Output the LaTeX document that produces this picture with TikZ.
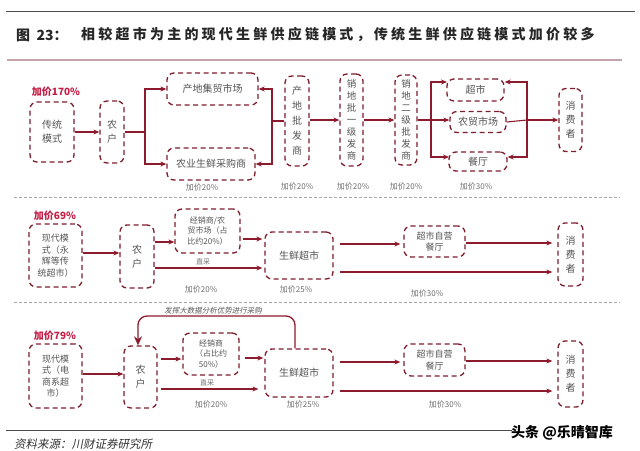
\documentclass[tikz,border=0pt]{standalone}
\usepackage{fontspec}
\setmainfont{Noto Sans CJK SC}
\newfontfamily\cjkit[FakeSlant=0.2]{Noto Sans CJK SC}
\newfontfamily\cjksp[LetterSpace=23]{Noto Sans CJK SC}
\usetikzlibrary{arrows.meta,calc}
\definecolor{dred}{RGB}{125,30,45}
\definecolor{ared}{RGB}{140,28,45}
\definecolor{redc}{RGB}{196,30,70}
\definecolor{txt}{RGB}{85,85,85}
\definecolor{lblc}{RGB}{110,110,110}
\definecolor{pinkline}{RGB}{195,165,170}
\tikzset{
  box/.style={draw=dred, dash pattern=on 5pt off 3.5pt, line width=1.3pt, rounded corners=7pt,
    inner sep=0pt, align=center, text=txt},
  f10/.style={font=\fontsize{10}{14}\selectfont},
  f9/.style={font=\fontsize{9}{11.5}\selectfont},
  f8/.style={font=\fontsize{8}{10.5}\selectfont},
  arr/.style={draw=ared, line width=1.1pt, -{Stealth[length=6pt,width=5pt]}},
  ln/.style={draw=ared, line width=1.1pt},
  lbl/.style={text=lblc, font=\fontsize{8}{9}\selectfont, inner sep=0pt},
  redl/.style={text=redc, font=\bfseries\fontsize{10}{12}\selectfont, inner sep=0pt},
  sep/.style={draw=gray!70, line width=0.8pt, dash pattern=on 3pt off 2pt},
  ttl/.style={anchor=west, inner sep=0pt, text=black!85, font=\cjksp\bfseries\fontsize{14}{16}\selectfont},
}
\begin{document}
\begin{tikzpicture}[x=1pt,y=-1pt]
\useasboundingbox[fill=white] (0,0) rectangle (640,450);
% header
\draw[gray!60!black, line width=0.8pt] (6,11) -- (635,11);
\node[ttl, font=\bfseries\fontsize{14}{16}\selectfont] (title1) at (16,35) {图\ \ 23：};
\node[ttl] (title2) at (81,35) {相较超市为主的现代生鲜供应链模式，传统生鲜供应链模式加价较多};
\draw[pinkline, line width=1.2pt] (7,60) -- (622,60);
\draw[sep] (14,197) -- (620,197);
\draw[sep] (14,302) -- (620,302);

% ===== Section 1 =====
\node[redl] (r1) at (56,92) {加价170\%};
\node[box,f10,minimum width=44pt,minimum height=60pt] (ctm) at (52,132) {传统\\模式};
\node[box,f10,minimum width=24pt,minimum height=62pt] (nh1) at (112,132) {农\\户};
\node[box,f10,minimum width=91pt,minimum height=32pt] (cdjm) at (212.5,89) {产地集贸市场};
\node[box,f10,minimum width=88pt,minimum height=32pt] (nysx) at (211,164) {农业生鲜采购商};
\node[box,font=\fontsize{10}{15}\selectfont,minimum width=24pt,minimum height=90pt] (cdpf) at (297,121) {产\\地\\批\\发\\商};
\node[box,font=\fontsize{9.5}{12}\selectfont,minimum width=23pt,minimum height=92pt] (xd1) at (351.5,120) {销\\地\\批\\一\\级\\发\\商};
\node[box,font=\fontsize{9.5}{12}\selectfont,minimum width=22pt,minimum height=90pt] (xd2) at (406,120) {销\\地\\二\\级\\批\\发\\商};
\node[box,f10,minimum width=57pt,minimum height=22pt] (cs) at (475.5,90) {超市};
\node[box,f10,minimum width=56pt,minimum height=21pt] (nmsc) at (478,122) {农贸市场};
\node[box,f10,minimum width=58pt,minimum height=19pt] (ct) at (478,161.5) {餐厅};
\node[box,f10,minimum width=23pt,minimum height=63pt] (xfz1) at (570.5,120) {消\\费\\者};

\coordinate (j1) at (145,132);
\coordinate (j2) at (272,121);
\coordinate (j3) at (431,120);
\coordinate (j4) at (527,120);
\coordinate (c1t) at (447,82);
\coordinate (c1b) at (449,157);

\draw[arr] (ctm.east) -- (nh1.west);
\draw[ln] (nh1.east) -- (j1);
\draw[arr] (j1) |- (cdjm.west);
\draw[arr] (j1) |- (nysx.west);
\draw[ln] (cdpf.west) -- (j2);
\draw[arr] (j2) |- (cdjm.east);
\draw[arr] (j2) |- (nysx.east);
\draw[arr] (cdpf.east |- xd1.west) -- (xd1.west);
\draw[arr] (xd2.west -| xd1.east) -- (xd2.west);
\draw[ln] (xd2.east) -- (j3);
\draw[arr] (j3) |- (c1t);
\draw[arr] (j3) -- (j3 -| nmsc.west);
\draw[arr] (j3) |- (c1b);
\draw[arr] (j4) |- (c1t -| cs.east);
\draw[arr] (j4) |- (c1b -| ct.east);
\draw[ln] (j4 |- c1t) -- (j4 |- c1b);
\draw[ln] (nmsc.east) -- (j4);
\draw[arr, line width=2pt] (j4) -- (xfz1.west);

\node[lbl] (p11) at (202,187) {加价20\%};
\node[lbl] (p12) at (297,186) {加价20\%};
\node[lbl] (p13) at (353,186) {加价20\%};
\node[lbl] (p14) at (406,186) {加价20\%};
\node[lbl] (p15) at (476,186) {加价30\%};

% ===== Section 2 =====
\node[redl] (r2) at (55,216) {加价69\%};
\node[box,f9,minimum width=53pt,minimum height=63pt] (mm2) at (55.5,255.5) {现代模\\式（永\\辉等传\\统超市）};
\node[box,f10,minimum width=34pt,minimum height=63pt] (nh2) at (137,256.5) {农\\户};
\node[box,f8,minimum width=65pt,minimum height=44pt] (jxs2) at (207.5,231) {经销商/农\\贸市场（占\\比约20\%）};
\node[box,f10,minimum width=68pt,minimum height=47pt] (sx2) at (299,255.5) {生鲜超市};
\node[box,f9,minimum width=61pt,minimum height=31pt] (zy2) at (434.5,241.5) {超市自营\\餐厅};
\node[box,f10,minimum width=25pt,minimum height=63pt] (xfz2) at (570.5,254.5) {消\\费\\者};

\draw[arr] (mm2.east |- 0,253) -- (nh2.west |- 0,253);
\draw[arr] (nh2.east |- 0,242) -- (jxs2.west |- 0,242);
\draw[arr, shorten <=2pt, shorten >=2pt] (jxs2.east |- 0,239) -- (sx2.west |- 0,239);
\draw[arr, shorten >=2pt] (nh2.east |- 0,268) -- (sx2.west |- 0,268);
\draw[arr, shorten <=6pt, shorten >=3pt] (sx2.east |- 0,244) -- (zy2.west |- 0,244);
\draw[arr, shorten >=5pt] (zy2.east |- 0,243) -- (xfz2.west |- 0,243);
\draw[arr, shorten <=6pt, shorten >=5pt] (sx2.east |- 0,272) -- (xfz2.west |- 0,272);
\node[lbl, font=\fontsize{7}{8}\selectfont] (zc2) at (203,262) {直采};
\node[lbl] (p21) at (201,289) {加价20\%};
\node[lbl] (p22) at (296,289) {加价25\%};
\node[lbl] (p23) at (427,293) {加价30\%};

% ===== Section 3 =====
\node[redl] (r3) at (55,336) {加价79\%};
\node[box,f9,minimum width=53pt,minimum height=64pt] (mm3) at (55.5,376) {现代模\\式（电\\商系超\\市）};
\node[box,f10,minimum width=33pt,minimum height=62pt] (nh3) at (140.5,377) {农\\户};
\node[box,f8,minimum width=56pt,minimum height=42pt] (jxs3) at (211,354) {经销商\\（占比约\\50\%）};
\node[box,f10,minimum width=68pt,minimum height=48pt] (sx3) at (299,373) {生鲜超市};
\node[box,f9,minimum width=61pt,minimum height=32pt] (zy3) at (434.5,360) {超市自营\\餐厅};
\node[box,f10,minimum width=25pt,minimum height=66pt] (xfz3) at (570.5,374) {消\\费\\者};

\draw[arr] (mm3.east |- 0,374) -- (nh3.west |- 0,374);
\draw[arr, shorten <=3pt, shorten >=1pt] (nh3.east |- 0,359) -- (jxs3.west |- 0,359);
\draw[arr, shorten <=5pt, shorten >=1pt] (jxs3.east |- 0,358) -- (sx3.west |- 0,358);
\draw[arr, shorten <=3pt, shorten >=6pt] (nh3.east |- 0,389) -- (sx3.west |- 0,389);
\draw[arr, shorten <=6pt, shorten >=3pt] (sx3.east |- 0,362) -- (zy3.west |- 0,362);
\draw[arr, shorten >=5pt] (zy3.east |- 0,361) -- (xfz3.west |- 0,361);
\draw[arr, shorten <=6pt, shorten >=5pt] (sx3.east |- 0,391) -- (xfz3.west |- 0,391);
\coordinate (fb1) at (295,316);
\coordinate (fb2) at (138,316);
\draw[draw=ared, line width=1.3pt, rounded corners=9pt, -{Stealth[length=9pt,width=8pt]}]
  (sx3.north -| fb1) -- (fb1) -- (fb2) -- (nh3.north -| fb2);
\node[lbl, font=\cjkit\fontsize{7.5}{8}\selectfont, text=black!65] (fbl) at (213,311) {发挥大数据分析优势进行采购};
\node[lbl, font=\fontsize{7}{8}\selectfont] (zc3) at (207,383) {直采};
\node[lbl] (p31) at (211,404) {加价20\%};
\node[lbl] (p32) at (303,404) {加价25\%};
\node[lbl] (p33) at (445,404) {加价30\%};

% footer
\draw[gray!60!black, line width=0.8pt] (6,430) -- (512,430);
\node[anchor=west, inner sep=0pt, text=black!80, font=\cjkit\fontsize{11.5}{12}\selectfont] (src) at (14,444) {资料来源：川财证券研究所};
\node[anchor=west, inner sep=0pt, text=black, font=\bfseries\fontsize{14}{15}\selectfont] (wm) at (511,433) {头条 @乐晴智库};
\end{tikzpicture}
\end{document}
